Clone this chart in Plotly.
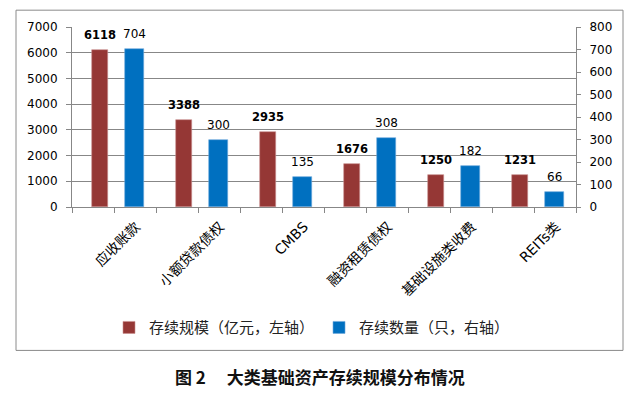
import plotly.graph_objects as go

# ---- data ----
categories = ["应收账款", "小额贷款债权", "CMBS", "融资租赁债权", "基础设施类收费", "REITs类"]
scale_values = [6118, 3388, 2935, 1676, 1250, 1231]   # 存续规模（亿元，左轴）
count_values = [704, 300, 135, 308, 182, 66]          # 存续数量（只，右轴）
left_ticks = [0, 1000, 2000, 3000, 4000, 5000, 6000, 7000]
right_ticks = [0, 100, 200, 300, 400, 500, 600, 700, 800]
name_scale = "存续规模（亿元，左轴）"
name_count = "存续数量（只，右轴）"
caption = "图 2　 大类基础资产存续规模分布情况"

# ---- style ----
RED = "#953735"
BLUE = "#0070C0"
GRID = "#878787"
CJK = "Noto Sans CJK SC"
LAT = "DejaVu Sans"
OFF = 8                      # page body margin of the browser
W, H = 641 - OFF, 396 - OFF
ML, MR, MT, MB = 72 - OFF, 65, 25 - OFF, 189
PW, PH = W - ML - MR, H - MT - MB

def px_x(p):
    return (p - OFF - ML) / PW

def px_y(p):
    return (H - MB - (p - OFF)) / PH

x = list(range(len(categories)))
red_off, red_w = -0.262, 0.195
blue_off, blue_w = 0.128, 0.228

fig = go.Figure()
fig.add_trace(go.Bar(
    x=x, y=scale_values, name=name_scale, yaxis="y",
    marker=dict(color=RED, line=dict(color="#c9908f", width=0.6)),
    offset=red_off, width=red_w, hoverinfo="y"))
fig.add_trace(go.Bar(
    x=x, y=count_values, name=name_count, yaxis="y2",
    marker=dict(color=BLUE, line=dict(color="#6fa8dc", width=0.6)),
    offset=blue_off, width=blue_w, hoverinfo="y"))

annotations = []
for i, v in enumerate(scale_values):
    annotations.append(dict(
        x=x[i] + red_off + red_w / 2, y=v, xref="x", yref="y",
        text=f"<b>{v}</b>", showarrow=False, yanchor="bottom", yshift=6,
        font=dict(family=LAT, size=11.5, color="#000")))
for i, v in enumerate(count_values):
    annotations.append(dict(
        x=x[i] + blue_off + blue_w / 2, y=v, xref="x", yref="y2",
        text=str(v), showarrow=False, yanchor="bottom", yshift=6,
        font=dict(family=LAT, size=12, color="#000")))
annotations.append(dict(
    x=px_x(320), y=px_y(378), xref="paper", yref="paper",
    text=f"<b>{caption}</b>", showarrow=False, xanchor="center", yanchor="middle",
    font=dict(family=CJK, size=17, color="#111")))

tickvals = [i * 0.5 - 0.5 for i in range(2 * len(categories) + 1)]
ticktext = []
for tv in tickvals:
    ticktext.append(categories[int(tv)] if float(tv).is_integer() else "")

fig.update_layout(
    width=W, height=H, autosize=False,
    margin=dict(l=ML, r=MR, t=MT, b=MB, pad=0),
    paper_bgcolor="white", plot_bgcolor="white",
    barmode="overlay", bargap=0,
    showlegend=True,
    legend=dict(orientation="h", x=px_x(312), xanchor="center",
                y=px_y(329), yanchor="middle",
                font=dict(family=CJK, size=15, color="#222"),
                bgcolor="rgba(0,0,0,0)"),
    xaxis=dict(range=[-0.5, 5.5], tickmode="array", tickvals=tickvals, ticktext=ticktext,
               tickangle=-45, ticks="outside", ticklen=5, tickcolor=GRID,
               showline=True, linecolor=GRID, linewidth=1, showgrid=False, zeroline=False,
               ticklabelshift=22,
               tickfont=dict(family=f"{LAT}, {CJK}", size=14, color="#000")),
    yaxis=dict(range=[0, 7000], tickmode="array", tickvals=left_ticks,
               ticks="outside", ticklen=5, tickcolor=GRID,
               showline=True, linecolor=GRID, linewidth=1,
               showgrid=True, gridcolor=GRID, gridwidth=1, zeroline=False,
               ticklabelstandoff=6,
               tickfont=dict(family=LAT, size=12, color="#000")),
    yaxis2=dict(range=[0, 800], tickmode="array", tickvals=right_ticks,
                overlaying="y", side="right",
                ticks="outside", ticklen=4, tickcolor=GRID,
                showline=True, linecolor=GRID, linewidth=1,
                showgrid=False, zeroline=False,
                ticklabelstandoff=6,
                tickfont=dict(family=LAT, size=12, color="#000")),
    annotations=annotations,
    shapes=[dict(type="rect", xref="paper", yref="paper",
                 x0=px_x(16), x1=px_x(623), y0=px_y(352), y1=px_y(8),
                 line=dict(color="#8a8a8a", width=1), fillcolor="rgba(0,0,0,0)", layer="below")],
)

fig.write_html("out.html")
